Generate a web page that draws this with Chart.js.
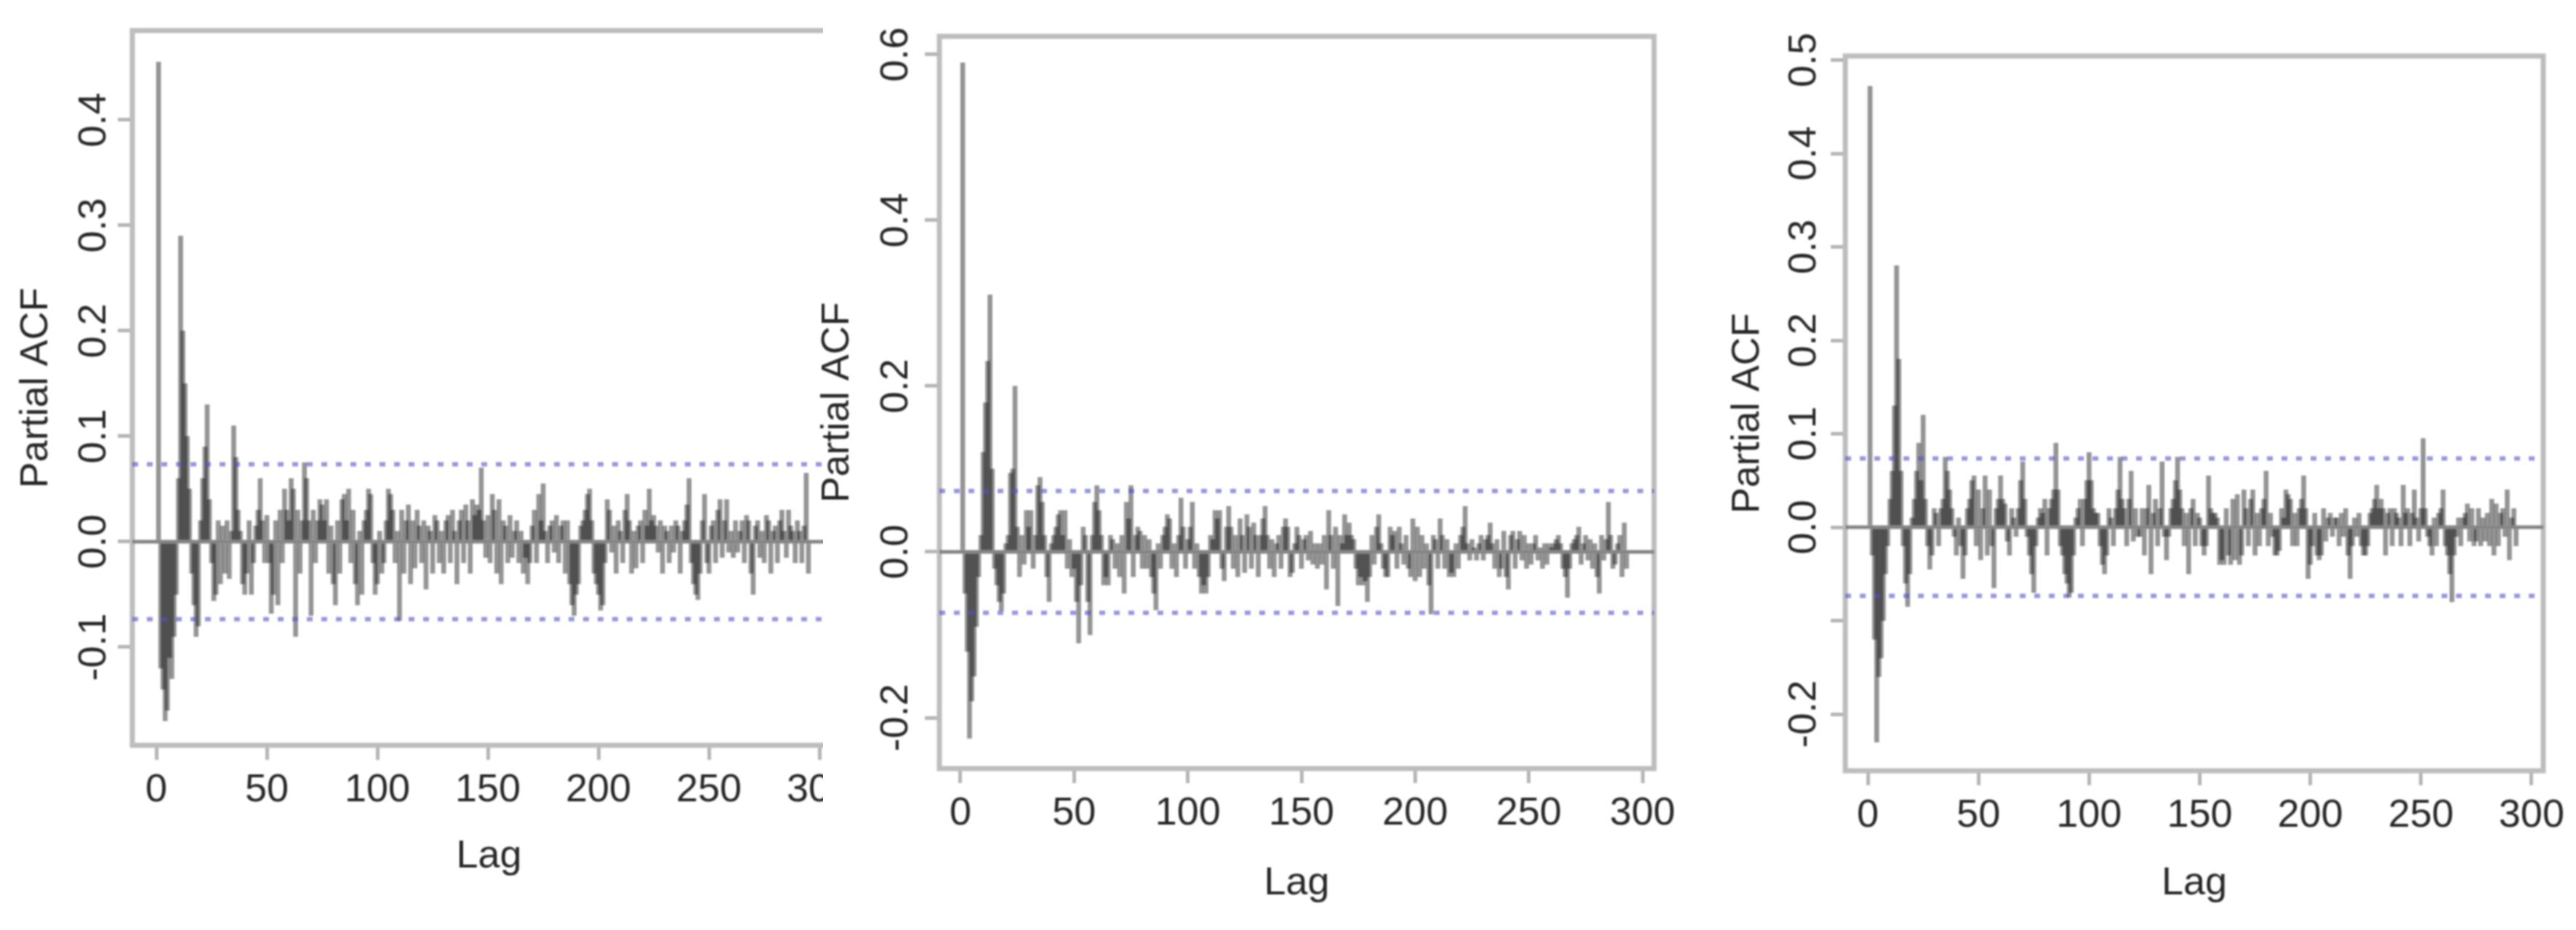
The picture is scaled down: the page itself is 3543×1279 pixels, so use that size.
<!DOCTYPE html>
<html><head><meta charset="utf-8">
<script src="https://cdn.jsdelivr.net/npm/chart.js@4.4.1/dist/chart.umd.min.js"></script>
<style>
html,body{margin:0;padding:0;background:#fff;}
body{width:3543px;height:1279px;position:relative;overflow:hidden;}
.wrap{position:absolute;top:0;height:1279px;overflow:hidden;}
canvas{display:block;filter:blur(1px);}
</style></head><body>
<div class="wrap" style="left:0;width:1132px"><canvas id="c1" width="1240" height="1279"></canvas></div>
<div class="wrap" style="left:1110px;width:1220px"><canvas id="c2" width="1220" height="1279"></canvas></div>
<div class="wrap" style="left:2330px;width:1213px"><canvas id="c3" width="1213" height="1279"></canvas></div>
<script>
// ---------- data ----------
const firstLag = 1;
const p1Values = [
 0.455,-0.12,-0.14,-0.17,-0.16,-0.11,-0.13,-0.09,-0.05,0.06,
 0.29,0.20,0.15,0.10,0.05,-0.03,-0.06,-0.09,-0.08,0.02,
 0.06,0.09,0.13,0.04,-0.02,-0.056,-0.05,0.02,-0.04,0.015,
 -0.03,0.02,-0.035,0.01,0.11,0.08,0.03,0.01,-0.04,-0.05,
 -0.03,0.02,-0.05,-0.02,0.015,0.03,0.06,0.02,-0.02,0.025,
 -0.02,-0.068,-0.05,0.02,-0.06,0.03,-0.02,0.05,0.03,0.02,
 0.06,0.05,-0.09,0.03,-0.03,0.02,0.075,0.06,0.02,-0.07,
 0.03,-0.02,0.02,0.04,0.035,0.02,0.04,-0.03,0.015,-0.04,
 -0.06,0.02,-0.03,0.04,0.045,0.02,0.05,-0.02,0.03,-0.04,
 -0.06,0.01,-0.05,0.02,0.03,0.05,0.045,-0.02,-0.05,-0.04,
 0.01,-0.03,-0.02,0.02,0.05,0.045,0.03,-0.02,0.01,-0.075,
 0.03,-0.03,0.02,0.035,-0.04,0.02,-0.025,0.03,0.015,-0.02,
 0.02,-0.045,0.015,0.01,-0.03,0.025,0.02,-0.02,0.01,-0.03,
 0.02,0.025,-0.02,0.03,0.01,-0.04,0.02,0.03,-0.02,0.035,
 0.02,-0.03,0.04,0.025,0.035,0.03,0.07,0.02,-0.015,0.025,
 -0.02,0.045,0.03,-0.03,0.04,-0.04,0.02,0.015,-0.02,0.025,
 -0.015,0.01,0.02,-0.02,0.01,-0.03,-0.015,-0.04,-0.02,0.015,
 0.03,-0.02,0.045,0.02,0.055,0.01,-0.02,0.015,0.02,-0.01,
 0.025,-0.02,0.015,0.02,-0.03,0.02,-0.04,-0.06,-0.07,-0.05,
 -0.04,0.015,0.02,0.03,0.045,0.05,0.02,-0.03,-0.04,-0.05,
 -0.065,-0.06,-0.02,0.04,0.03,-0.01,0.015,-0.03,0.02,0.01,
 -0.02,0.03,0.045,0.02,-0.03,0.01,-0.025,0.015,0.02,-0.02,
 0.03,0.015,0.05,0.02,0.025,0.015,-0.01,0.02,-0.03,0.015,
 0.01,-0.02,0.015,-0.01,0.02,0.015,-0.03,0.01,0.02,0.035,
 0.06,-0.02,-0.04,-0.05,-0.055,-0.03,0.02,0.045,-0.02,-0.03,
 0.015,0.02,-0.02,0.03,0.04,-0.015,0.02,0.04,-0.01,0.01,
 -0.015,0.02,-0.01,0.01,0.02,-0.02,0.025,0.02,-0.03,-0.05,
 0.015,0.02,-0.015,0.01,-0.02,0.025,0.02,-0.03,0.01,0.015,
 -0.02,0.02,0.03,0.01,-0.015,0.03,0.015,0.01,-0.02,0.02,
 0.01,-0.02,0.015,0.065,-0.03
];
const p2Values = [
 0.59,-0.05,-0.12,-0.225,-0.18,-0.15,-0.09,-0.03,0.02,0.12,
 0.18,0.23,0.31,0.10,-0.02,-0.04,-0.06,-0.071,-0.05,0.01,
 0.02,0.095,0.10,0.20,0.03,-0.03,0.02,-0.015,0.05,0.03,
 0.05,-0.02,0.02,0.08,0.09,0.06,0.02,-0.03,-0.06,0.01,
 0.02,0.03,0.045,0.05,0.02,0.05,-0.02,0.015,-0.03,-0.02,
 -0.06,-0.11,-0.04,0.03,0.02,-0.06,-0.10,0.02,0.06,0.08,
 0.05,0.02,-0.04,-0.03,-0.04,0.02,0.015,-0.02,0.01,-0.03,
 0.02,-0.05,0.06,0.04,0.08,-0.03,0.02,0.03,0.025,-0.02,
 0.02,-0.02,0.015,-0.03,-0.05,-0.07,0.01,-0.02,0.02,0.03,
 0.045,0.04,-0.02,0.01,-0.03,0.02,0.065,0.03,-0.02,0.015,
 0.03,0.06,-0.02,0.01,-0.03,-0.05,-0.04,-0.05,-0.03,0.02,
 0.015,0.05,0.04,0.05,-0.02,-0.035,0.03,0.055,0.03,-0.02,
 0.02,-0.03,0.04,0.02,-0.025,0.045,0.03,-0.02,0.035,0.02,
 -0.03,0.02,0.04,0.055,0.02,-0.02,0.015,-0.03,0.01,0.02,
 -0.02,0.03,0.04,0.03,-0.03,-0.025,0.01,0.03,0.02,-0.02,
 0.015,0.02,-0.01,0.025,-0.015,0.01,-0.02,0.01,-0.015,0.02,
 -0.045,0.05,0.02,-0.02,0.03,-0.065,0.02,0.01,0.045,0.02,
 0.035,0.02,0.015,-0.02,-0.04,-0.03,-0.04,-0.035,-0.06,-0.03,
 0.02,-0.015,0.03,0.045,0.01,-0.02,-0.03,-0.03,0.03,0.02,
 0.025,-0.02,0.03,0.01,-0.015,0.02,-0.02,-0.03,0.04,-0.035,
 0.03,-0.03,0.02,-0.02,0.01,-0.04,-0.075,0.02,0.015,-0.02,
 0.04,0.02,-0.02,0.015,-0.03,-0.025,-0.03,0.01,-0.02,0.02,
 0.03,0.055,0.01,-0.01,0.015,0.005,-0.01,0.01,0.02,-0.01,
 0.015,0.02,0.035,0.01,-0.02,0.015,-0.03,-0.02,0.025,-0.03,
 -0.045,0.02,0.025,-0.02,0.015,0.025,-0.01,0.02,-0.02,0.01,
 -0.015,0.01,0.02,-0.01,0.005,-0.02,0.01,-0.015,0.01,0.005,
 0.01,0.015,0.02,0.01,-0.02,-0.03,-0.055,-0.02,0.01,0.015,
 0.02,0.03,-0.015,0.01,0.02,-0.01,0.015,-0.02,0.01,-0.03,
 -0.05,0.02,-0.01,0.015,0.06,0.02,-0.02,-0.015,0.01,0.02,
 -0.03,0.035,-0.02
];
const p3Values = [
 0.472,-0.03,-0.12,-0.23,-0.16,-0.14,-0.10,-0.05,-0.02,0.03,
 0.06,0.13,0.28,0.18,0.06,-0.02,-0.06,-0.085,-0.05,0.01,
 0.03,0.06,0.09,0.05,0.12,0.03,-0.02,-0.045,-0.03,0.02,
 0.015,-0.02,0.02,0.03,0.075,0.06,0.04,0.02,-0.01,-0.03,
 0.01,-0.02,-0.055,-0.03,0.02,0.03,0.05,0.055,-0.02,0.04,
 -0.035,0.02,0.055,-0.03,0.04,-0.02,-0.065,0.02,0.03,0.055,
 0.03,0.025,-0.015,-0.03,0.02,0.01,-0.01,0.02,0.05,0.07,
 0.03,-0.01,-0.03,-0.05,-0.07,-0.02,0.01,0.02,0.015,0.03,
 -0.03,0.02,0.03,0.04,0.09,0.04,-0.02,-0.03,-0.05,-0.06,
 -0.075,-0.07,-0.03,0.01,0.02,0.03,-0.02,0.03,0.05,0.08,
 0.05,0.02,0.015,0.015,-0.02,-0.04,-0.05,-0.03,0.02,0.01,
 -0.02,0.02,0.04,0.075,0.03,0.02,-0.02,0.03,0.06,-0.015,
 0.02,-0.01,-0.01,0.02,-0.03,0.02,0.045,-0.05,0.015,0.03,
 -0.02,0.02,0.07,-0.01,-0.035,-0.01,0.02,0.03,0.05,0.075,
 0.04,0.02,-0.02,0.015,-0.05,0.02,0.03,-0.02,0.015,0.01,
 -0.02,-0.03,-0.02,0.055,0.02,0.015,0.015,0.01,-0.04,-0.035,
 -0.04,0.02,-0.03,-0.04,0.03,-0.035,0.035,-0.04,-0.03,0.04,
 0.02,-0.02,0.03,0.04,-0.03,0.015,-0.02,0.02,0.03,0.06,
 -0.02,0.015,-0.01,-0.03,-0.03,-0.025,0.02,0.01,0.04,0.035,
 0.03,-0.02,0.015,-0.02,0.02,0.03,0.055,0.02,-0.055,-0.04,
 -0.02,0.015,-0.03,-0.035,-0.03,0.02,-0.015,0.01,0.015,-0.01,
 0.01,0.01,-0.02,0.015,-0.01,0.02,-0.03,-0.055,-0.02,0.01,
 -0.01,0.015,-0.02,-0.03,-0.03,-0.02,0.015,0.02,0.03,0.045,
 0.02,0.03,0.02,-0.03,0.015,0.02,-0.02,0.02,0.015,0.01,
 -0.02,0.045,0.015,0.02,-0.02,0.015,0.04,0.01,-0.015,0.02,
 0.095,0.02,-0.01,-0.02,-0.03,0.01,-0.02,0.015,0.02,0.04,
 -0.02,-0.03,-0.05,-0.08,-0.03,-0.01,0.01,-0.02,0.01,0.015,
 0.025,-0.015,0.02,-0.02,-0.015,0.02,-0.02,0.01,-0.015,0.015,
 -0.02,0.03,-0.03,0.025,-0.02,0.015,0.02,-0.01,0.04,-0.035,
 0.01,0.02,-0.02
];
const confBound = [0.0735, 0.0735, 0.0735];
const xTickValues = [0, 50, 100, 150, 200, 250, 300];
const xTickLabels = ['0', '50', '100', '150', '200', '250', '300'];
const p1YTicks = [-0.1, 0, 0.1, 0.2, 0.3, 0.4];
const p1YLabels = ['-0.1', '0.0', '0.1', '0.2', '0.3', '0.4'];
const p2YTicks = [-0.2, 0, 0.2, 0.4, 0.6];
const p2YLabels = ['-0.2', '0.0', '0.2', '0.4', '0.6'];
const p3YTicks = [-0.2, -0.1, 0, 0.1, 0.2, 0.3, 0.4, 0.5];
const p3YLabels = ['-0.2', '', '0.0', '0.1', '0.2', '0.3', '0.4', '0.5'];
const xTitle = 'Lag';
const yTitle = 'Partial ACF';

// ---------- styling / layout ----------
const FONT = "'Liberation Sans', Arial, Helvetica, sans-serif";
const FS = 54;
const TXT = '#262626';

const boxPlugin = {
  id: 'rbox',
  beforeDatasetsDraw(chart) {
    const a = chart.chartArea, ctx = chart.ctx;
    ctx.save();
    ctx.strokeStyle = '#bdbdbd';
    ctx.lineWidth = 7;
    ctx.strokeRect(a.left, a.top, a.right - a.left, a.bottom - a.top);
    ctx.restore();
  }
};
const yLabelPlugin = {
  id: 'ylabs',
  afterDraw(chart, args, opts) {
    const ys = chart.scales.y, ctx = chart.ctx;
    ctx.save();
    ctx.font = FS + 'px ' + FONT;
    ctx.fillStyle = TXT;
    ctx.textAlign = 'center';
    ctx.textBaseline = 'middle';
    opts.values.forEach((v, i) => {
      const lab = opts.labels[i];
      if (!lab) return;
      const y = ys.getPixelForValue(v);
      ctx.save();
      ctx.translate(chart.chartArea.left - opts.offset, y);
      ctx.rotate(-Math.PI / 2);
      ctx.fillText(lab, 0, 0);
      ctx.restore();
    });
    ctx.restore();
  }
};

function makePanel(id, cfg) {
  const canvas = document.getElementById(id);
  const W = canvas.width, H = canvas.height;
  const pts = cfg.values.map((v, i) => ({ x: i + firstLag, y: v }));
  const hline = (val) => [{ x: cfg.xmin, y: val }, { x: cfg.xmax, y: val }];
  new Chart(canvas, {
    data: {
      datasets: [
        { type: 'bar', data: pts, backgroundColor: 'rgba(0,0,0,0.42)', borderWidth: 0,
          barThickness: 6, order: 3 },
        { type: 'line', data: hline(0), borderColor: '#858585', borderWidth: 5,
          pointRadius: 0, order: 2 },
        { type: 'line', data: hline(cfg.conf), borderColor: 'rgba(80,80,205,0.6)', borderWidth: 6,
          borderDash: [8, 12], pointRadius: 0, order: 1 },
        { type: 'line', data: hline(-cfg.conf), borderColor: 'rgba(80,80,205,0.6)', borderWidth: 6,
          borderDash: [8, 12], pointRadius: 0, order: 1 }
      ]
    },
    options: {
      responsive: false, animation: false, devicePixelRatio: 1,
      layout: { padding: { left: 0, top: cfg.top, right: W - cfg.right, bottom: 0 } },
      plugins: { legend: { display: false }, tooltip: { enabled: false },
        ylabs: { values: cfg.yTicks, labels: cfg.yLabels, offset: cfg.yLabOff } },
      scales: {
        x: {
          type: 'linear', position: 'bottom', min: cfg.xmin, max: cfg.xmax, offset: false,
          afterBuildTicks: s => { s.ticks = xTickValues.map(v => ({ value: v })); },
          afterFit: s => { s.height = H - cfg.bottom; },
          grid: { offset: false, drawOnChartArea: false, drawTicks: true, tickLength: 20, color: '#b5b5b5', lineWidth: 5 },
          border: { display: false },
          ticks: { padding: 10, color: TXT, font: { family: FONT, size: FS }, maxRotation: 0, minRotation: 0,
            autoSkip: false, callback: (v) => { const i = xTickValues.indexOf(v); return i >= 0 ? xTickLabels[i] : ''; } },
          title: { display: true, text: xTitle, color: TXT, font: { family: FONT, size: FS },
            padding: { top: 0, bottom: cfg.xTitlePad } }
        },
        y: {
          type: 'linear', position: 'left', min: cfg.ymin, max: cfg.ymax,
          afterBuildTicks: s => { s.ticks = cfg.yTicks.map(v => ({ value: v })); },
          afterFit: s => { s.width = cfg.left; },
          grid: { drawOnChartArea: false, drawTicks: true, tickLength: 20, color: '#b5b5b5', lineWidth: 5 },
          border: { display: false },
          ticks: { display: false },
          title: { display: true, text: yTitle, color: TXT, font: { family: FONT, size: FS },
            padding: { top: cfg.yTitlePad, bottom: 0 } }
        }
      }
    },
    plugins: [boxPlugin, yLabelPlugin]
  });
}

// chart-area coordinates are relative to each canvas
makePanel('c1', { values: p1Values, conf: confBound[0], left: 182, top: 42, right: 1163, bottom: 1025,
  xmin: -10.86, xmax: 311.8, ymin: -0.1931, ymax: 0.4848, yTicks: p1YTicks, yLabels: p1YLabels,
  yLabOff: 52, xTitlePad: 68, yTitlePad: 18 });
makePanel('c2', { values: p2Values, conf: confBound[1], left: 182, top: 50, right: 1165, bottom: 1057,
  xmin: -9.27, xmax: 305.1, ymin: -0.2614, ymax: 0.6219, yTicks: p2YTicks, yLabels: p2YLabels,
  yLabOff: 59, xTitlePad: 31, yTitlePad: 10 });
makePanel('c3', { values: p3Values, conf: confBound[2], left: 208, top: 77, right: 1168, bottom: 1060,
  xmin: -10.19, xmax: 305.3, ymin: -0.2607, ymax: 0.5043, yTicks: p3YTicks, yLabels: p3YLabels,
  yLabOff: 56, xTitlePad: 31, yTitlePad: 42 });
</script>
</body></html>
